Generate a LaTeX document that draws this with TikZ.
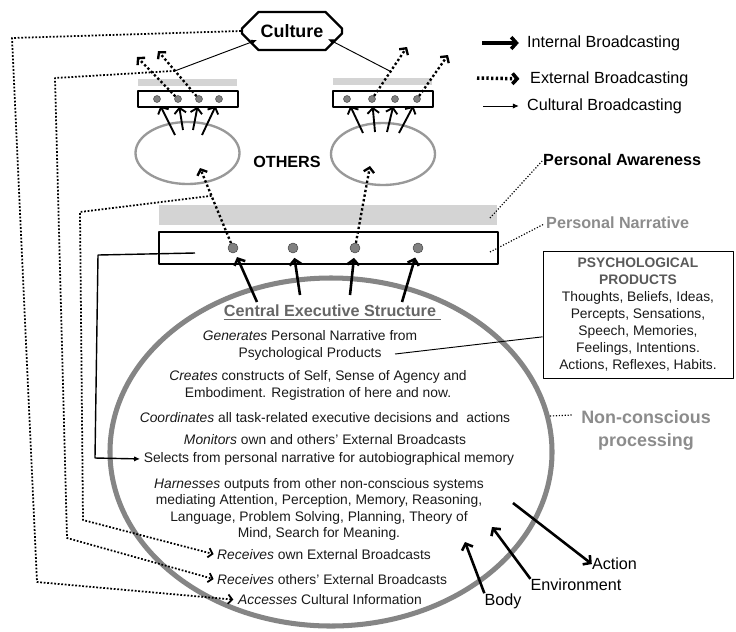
\documentclass[tikz,border=0pt]{standalone}
\usepackage{fontspec}
\setmainfont{Liberation Sans}
\usetikzlibrary{arrows.meta,shapes.geometric,shapes.misc}
\definecolor{barcol}{HTML}{D4D4D4}
\def\pp#1{{\bfseries\color{black!65}#1}}
\begin{document}
\begin{tikzpicture}[x=0.03cm, y=-0.03cm, line join=round,
	txt/.style={inner sep=0pt, align=center, text=black!90, font=\fontsize{11.8}{14.5}\selectfont},
	lab/.style={inner sep=0pt, font=\fontsize{13.8}{16}\selectfont},
	hdr/.style={inner sep=0pt, font=\bfseries\fontsize{13.8}{16}\selectfont},
	bbox/.style={draw, line width=2.4pt, inner sep=0pt},
	dot/.style={circle, fill=black!50, draw=black!75, line width=0.4pt, minimum size=0.21cm, inner sep=0pt},
	bigdot/.style={dot, minimum size=0.3cm},
	othell/.style={ellipse, draw=black!40, line width=2pt, minimum width=3.12cm, minimum height=1.86cm, inner sep=0pt},
	selfell/.style={ellipse, draw=black!48, line width=4.3pt, minimum width=13.26cm, minimum height=10.44cm, inner sep=0pt},
	culture/.style={chamfered rectangle, draw, line width=2pt, minimum width=3cm, minimum height=1.14cm,
		chamfered rectangle xsep=0.25cm, chamfered rectangle ysep=0.3cm, inner sep=0pt,
		font=\bfseries\fontsize{15.3}{17}\selectfont},
	intarr/.style={line width=2.2pt, -{Straight Barb[length=4.5pt,width=10pt]}},
	extarr/.style={line width=2pt, dash pattern=on 2pt off 2pt, -{Straight Barb[length=4pt,width=9pt]}},
	linkarr/.style={line width=1.5pt, dash pattern=on 1.5pt off 1.5pt, -{Straight Barb[length=3.5pt,width=8pt]}},
	cularr/.style={line width=0.8pt, -{Latex[length=5pt,width=4.5pt]}},
	leader/.style={line width=1pt, dash pattern=on 1pt off 1.5pt}]
	\useasboundingbox (0,0) rectangle (736,631);
	% grey awareness bars
	\fill[barcol] (138,79) rectangle (237,86);
	\fill[barcol] (333,78) rectangle (432,85);
	\fill[barcol] (159,205) rectangle (497,225);
	% self and others
	\node[selfell] (self) at (331,452) {};
	\node[othell] (lell) at (187.5,153) {};
	\node[othell] (rell) at (383,154) {};
	\node[hdr] (oth) at (287,162) {OTHERS};
	\node[culture] (cult) at (292,31) {Culture};
	% narrative boxes
	\node[bbox, minimum width=3cm, minimum height=0.48cm] (lbox) at (188,99) {};
	\node[bbox, minimum width=3cm, minimum height=0.48cm] (rbox) at (383,99) {};
	\node[bbox, minimum width=10.17cm, minimum height=0.96cm] (nbox) at (328.5,248) {};
	\foreach \i/\x in {1/157,2/178,3/199,4/219} \node[dot] (l\i) at (\x,99) {};
	\foreach \i/\x in {1/347,2/372,3/395,4/417} \node[dot] (r\i) at (\x,99) {};
	\foreach \i/\x in {1/233,2/293,3/355,4/418} \node[bigdot] (n\i) at (\x,248) {};
	% internal broadcasting
	\foreach \i/\sx/\sy in {1/175/135,2/183/130,3/193/130,4/202/135}{
		\coordinate (la\i) at (\sx,\sy);
		\draw[intarr, line width=1.6pt, shorten >=3.5pt] (la\i) -- (l\i);}
	\foreach \i/\sx/\sy in {1/363/133,2/375/132,3/387/132,4/399/133}{
		\coordinate (ra\i) at (\sx,\sy);
		\draw[intarr, line width=1.6pt, shorten >=3.5pt] (ra\i) -- (r\i);}
	\foreach \i/\sx/\sy in {1/257/302,2/300/295,3/350/295,4/402/302}{
		\coordinate (na\i) at (\sx,\sy);
		\draw[intarr, shorten >=4pt] (na\i) -- (n\i);}
	% external broadcasting
	\coordinate (lin) at (200,168); \coordinate (rin) at (370,166);
	\draw[extarr] (n1) -- coordinate[pos=0.63] (br1) (lin);
	\draw[extarr] (n3) -- (rin);
	\coordinate (lo2) at (137,57); \coordinate (lo3) at (158,51);
	\coordinate (ro2) at (407,47); \coordinate (ro4) at (448,55);
	\draw[extarr] (l2) -- (lo2);
	\draw[extarr] (l3) -- coordinate[pos=0.56] (lc) (lo3);
	\draw[extarr] (r2) -- coordinate[pos=0.5] (rc) (ro2);
	\draw[extarr] (r4) -- (ro4);
	% cultural broadcasting
	\coordinate (cl) at (257,40); \coordinate (cr) at (328,39);
	\draw[cularr] (lc) -- (cl);
	\draw[cularr] (rc) -- (cr);
	% legend
	\node[lab, anchor=west] (kint) at (527,43) {Internal Broadcasting};
	\node[lab, anchor=west] (kext) at (530,79) {External Broadcasting};
	\node[lab, anchor=west] (kcul) at (527,106) {Cultural Broadcasting};
	\coordinate (k1) at (482,43); \coordinate (k2) at (477,78); \coordinate (k3) at (483,106);
	\draw[intarr, line width=3pt, shorten >=7pt] (k1) -- (kint.west);
	\draw[extarr, line width=3pt, shorten >=9pt] (k2) -- (kext.west);
	\draw[cularr, shorten >=7pt] (k3) -- (kcul.west);
	% labels on the right
	\node[hdr, anchor=west] (paw) at (543,160) {Personal Awareness};
	\node[hdr, anchor=west, text=black!45] (pnar) at (546,223) {Personal Narrative};
	\node[hdr, text=black!45, align=center, font=\bfseries\fontsize{15.3}{19.6}\selectfont] (ncp) at (646,430.5) {Non-conscious\\processing};
	\coordinate (pa0) at (490,218); \coordinate (pn0) at (490,252);
	\coordinate (nc0) at (550,416); \coordinate (nc1) at (572,415);
	\draw[leader] (pa0) -- (paw.west);
	\draw[leader, shorten >=2pt] (pn0) -- (pnar.west);
	\draw[leader] (nc0) -- (nc1);
	\node[draw, line width=0.8pt, minimum width=5.7cm, minimum height=3.81cm, txt] (pbox) at (638,314.5)
		{\pp{PSYCHOLOGICAL}\\\pp{PRODUCTS}\\Thoughts, Beliefs, Ideas,\\Percepts, Sensations,\\Speech, Memories,\\Feelings, Intentions.\\Actions, Reflexes, Habits.};
	% central executive
	\node[hdr, text=black!60] (ces) at (330,311) {Central Executive Structure};
	\draw[black!60, line width=1.3pt] ([yshift=-2pt]ces.south west) -- ([xshift=4pt,yshift=-2pt]ces.south east);
	\node[txt] (gen) at (310,345) {\textit{Generates} Personal Narrative from\\Psychological Products};
	\node[txt] (cre) at (318,385.5) {\textit{Creates} constructs of Self, Sense of Agency and\\Embodiment. Registration of here and now.};
	\node[txt] (coo) at (325,418) {\textit{Coordinates} all task-related executive decisions and\ \ actions};
	\node[txt] (mon) at (325,440) {\textit{Monitors} own and others' External Broadcasts};
	\node[txt] (sel) at (329,459) {Selects from personal narrative for autobiographical memory};
	\node[txt, font=\fontsize{11.8}{13.9}\selectfont] (har) at (319,509.5) {\textit{Harnesses} outputs from other non-conscious systems\\mediating Attention, Perception, Memory, Reasoning,\\Language, Problem Solving, Planning, Theory of\\Mind, Search for Meaning.};
	\node[txt, anchor=west] (rown) at (217,555) {\textit{Receives} own External Broadcasts};
	\node[txt, anchor=west] (roth) at (217,580) {\textit{Receives} others' External Broadcasts};
	\node[txt, anchor=west] (acc) at (238,600) {\textit{Accesses} Cultural Information};
	\coordinate (pp) at (395,354);
	\draw[line width=0.8pt] (pp) -- ([yshift=-0.67cm]pbox.west);
	% selection for memory
	\coordinate (sn) at (195,253);
	\draw[line width=1.2pt, -{Latex[length=5pt,width=4.5pt]}, shorten >=3pt] (sn) -- (98,255) -- (95,458) -- (sel.west);
	% monitoring links
	\draw[linkarr, shorten >=4pt] (cult.west) -- (12,38) -- (37,582) -- (acc.west);
	\draw[linkarr, shorten >=3pt] (lc) -- (55,78) -- (67,538) -- (roth.west);
	\draw[linkarr, shorten >=3pt] (br1) -- (80,212) -- (83,520) -- (rown.west);
	% body, environment, action
	\node[lab] (act) at (614.5,564) {Action};
	\node[lab] (env) at (576,585) {Environment};
	\node[lab] (body) at (503,601) {Body};
	\coordinate (ao) at (513,503); \coordinate (et) at (492,527); \coordinate (bt) at (465,542);
	\draw[intarr] (ao) -- (act.west);
	\draw[intarr] (env.north west) -- (et);
	\draw[intarr] (body.north west) -- (bt);
\end{tikzpicture}
\end{document}
